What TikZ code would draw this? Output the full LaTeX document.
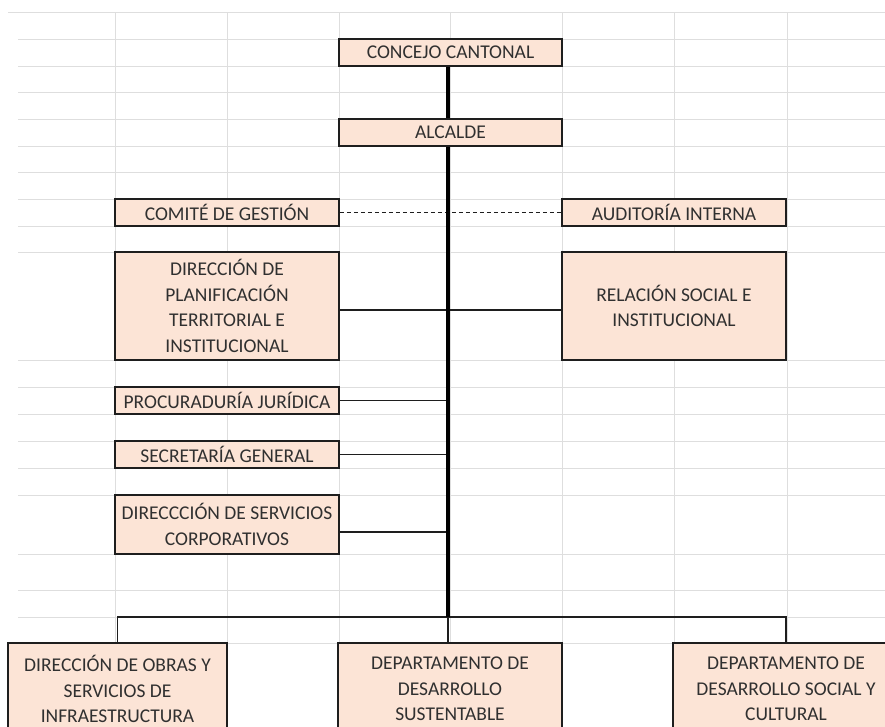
\documentclass[tikz,border=0pt]{standalone}
\usepackage{fontspec}
\setmainfont{Carlito}
\begin{document}
\begin{tikzpicture}[x=1pt,y=-1pt,
  gridline/.style={draw=gridgray,line width=0.9pt},
  orgbox/.style={draw=boxborder,fill=boxfill,line width=1.9pt,inner sep=0pt,
    align=center,text=txtgray,font=\fontsize{19.5}{25.5}\selectfont},
  conn/.style={draw=boxborder,line width=1.8pt},
  spine/.style={draw=black,line width=4pt},
  dashconn/.style={draw=boxborder,line width=0.9pt,dash pattern=on 4pt off 3pt}]
\definecolor{gridgray}{HTML}{DEDEDE}
\definecolor{boxfill}{HTML}{FCE4D6}
\definecolor{boxborder}{HTML}{1E1E1E}
\definecolor{txtgray}{HTML}{303030}
\useasboundingbox (0,0) rectangle (885,726);
\begin{scope}
\clip (0,0) rectangle (885,726);
% spreadsheet grid
\draw[gridline] (8,12) -- (885,12);
\foreach \yy in {39,66,92,119,146,172,199,226,252,360,387,414,441,468,495,554,590,617,643}
  \draw[gridline] (18,\yy) -- (885,\yy);
\foreach \xx in {115,227,339,450,562,674,787}
  \draw[gridline] (\xx,12) -- (\xx,726);
% boxes
\node[orgbox,minimum width=223pt,minimum height=27pt] (cc) at (450.5,52.5) {CONCEJO CANTONAL};
\node[orgbox,minimum width=223pt,minimum height=27pt] (alc) at (450.5,132.5) {ALCALDE};
\node[orgbox,minimum width=224pt,minimum height=27pt] (com) at (227,212.5) {COMITÉ DE GESTIÓN};
\node[orgbox,minimum width=224pt,minimum height=27pt] (aud) at (674,212.5) {AUDITORÍA INTERNA};
\node[orgbox,minimum width=224pt,minimum height=108pt] (plan) at (227,306) {DIRECCIÓN DE\\PLANIFICACIÓN\\TERRITORIAL E\\INSTITUCIONAL};
\node[orgbox,minimum width=224pt,minimum height=108pt] (rel) at (674,306) {RELACIÓN SOCIAL E\\INSTITUCIONAL};
\node[orgbox,minimum width=224pt,minimum height=27pt] (proc) at (227,400.5) {PROCURADURÍA JURÍDICA};
\node[orgbox,minimum width=224pt,minimum height=27pt] (sec) at (227,454.5) {SECRETARÍA GENERAL};
\node[orgbox,minimum width=224pt,minimum height=59pt] (serv) at (227,524.5) {DIRECCCIÓN DE SERVICIOS\\CORPORATIVOS};
\node[orgbox,minimum width=219pt,minimum height=92pt] (obras) at (117.5,689) {DIRECCIÓN DE OBRAS Y\\SERVICIOS DE\\INFRAESTRUCTURA};
\node[orgbox,minimum width=224pt,minimum height=92pt] (sust) at (450,689) {DEPARTAMENTO DE\\DESARROLLO\\SUSTENTABLE};
\node[orgbox,minimum width=226pt,minimum height=92pt] (soc) at (786,689) {DEPARTAMENTO DE\\DESARROLLO SOCIAL Y\\CULTURAL};
% connectors
\coordinate (junc) at (448,617);
\draw[dashconn] (com.east) -- (aud.west);
\draw[conn] ([yshift=-4pt]plan.east) -- ([yshift=-4pt]rel.west);
\draw[conn] (proc.east) -- (proc.east -| junc);
\draw[conn] (sec.east) -- (sec.east -| junc);
\draw[conn] ([yshift=-7.5pt]serv.east) -- ([yshift=-7.5pt]serv.east -| junc);
\draw[conn] (obras.north) |- (junc) -| (soc.north);
\draw[conn] (junc) -- (sust.north -| junc);
\draw[spine] (cc.south -| junc) -- (alc.north -| junc);
\draw[spine] (alc.south -| junc) -- (junc);
\end{scope}
\end{tikzpicture}
\end{document}
